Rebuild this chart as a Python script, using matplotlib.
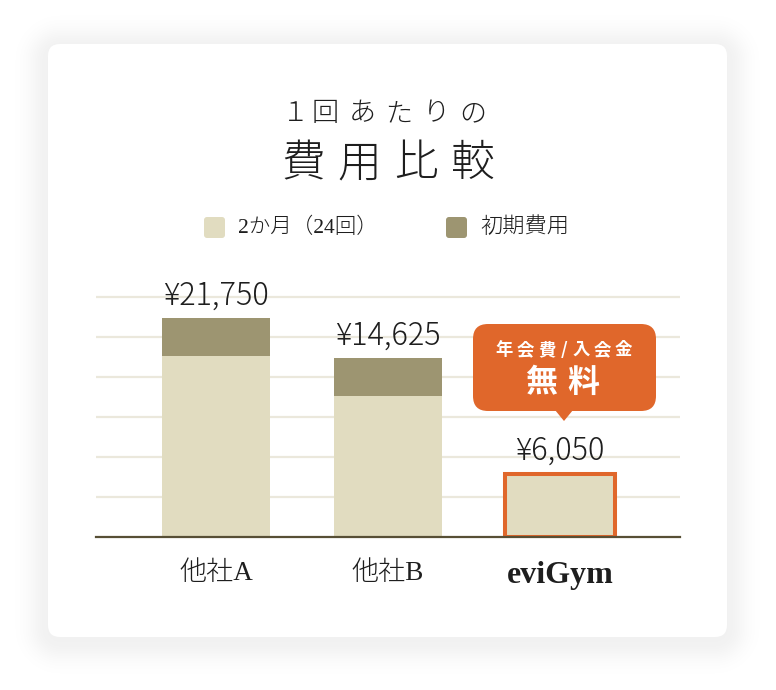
import numpy as np
import matplotlib.pyplot as plt
from matplotlib.patches import FancyBboxPatch, Polygon

# data
companies = ['他社A', '他社B', 'eviGym']
monthly = [4.52, 3.52, 1.58]     # 2か月（24回） bar height (grid units)
initial = [0.95, 0.95, 0.0]      # 初期費用 bar height (grid units)
price_labels = ['¥21,750', '¥14,625', '¥6,050']
series_names = ['2か月（24回）', '初期費用']

c_base = '#e1dcc0'
c_init = '#9d9571'
c_orange = '#e0672b'
c_grid = '#ebe8dc'
c_axis = '#574f35'
c_text = '#1e1e1e'

JP = ['Liberation Serif', 'Noto Sans CJK JP', 'DejaVu Sans']
JPS = ['Noto Sans CJK JP', 'DejaVu Sans']

W, H = 776, 690
fig = plt.figure(figsize=(W / 100, H / 100), dpi=100)
fig.patch.set_facecolor('white')

bg = fig.add_axes([0, 0, 1, 1], zorder=0)
bg.set_xlim(0, W)
bg.set_ylim(H, 0)
bg.axis('off')

# soft card shadow (distance to the rounded card, faded)
yy, xx = np.mgrid[0:H, 0:W] + 0.5
cx, cy, hw, hh, r = 387.5, 344.5, 339.5, 296.5, 12
qx = np.abs(xx - cx) - (hw - r)
qy = np.abs(yy - cy) - (hh - r)
dist = np.hypot(np.maximum(qx, 0), np.maximum(qy, 0)) + np.minimum(np.maximum(qx, qy), 0) - r
shade = 0.055 * np.exp(-(np.maximum(dist, 0) / 20.0) ** 2)
img = np.zeros((H, W, 4))
img[..., 3] = shade
bg.imshow(img, extent=(0, W, H, 0), interpolation='bilinear', zorder=0)
bg.set_xlim(0, W)
bg.set_ylim(H, 0)
bg.add_patch(FancyBboxPatch((48, 44), 679, 593, boxstyle='round,pad=0,rounding_size=12',
                            fc='white', ec='none', zorder=1))


def spaced(axis, x_center, y, s, fs, tracking, **kw):
    # draw characters one by one with letter spacing (fs in pt)
    px = fs * 100 / 72
    widths = [(0.5 if ord(ch) < 128 else 1.0) * px for ch in s]
    total = sum(widths) + tracking * (len(s) - 1)
    x = x_center - total / 2
    for ch, w in zip(s, widths):
        axis.text(x + w / 2, y, ch, fontsize=fs, ha='center', va='center', zorder=2, **kw)
        x += w + tracking


# title
title1 = '１回あたりの'
title1_x = [295, 325, 362, 399, 436, 473]
for ch, tx in zip(title1, title1_x):
    bg.text(tx, 113, ch, fontsize=19.5, ha='center', va='center', color=c_text,
            family=JPS, fontweight='light', zorder=2)
spaced(bg, 388, 165, '費用比較', 31.5, 13, color=c_text, family=JP, fontweight='light')

# legend
leg = [(204, series_names[0], c_base, 15.5), (446, series_names[1], c_init, 16)]
for x0, name, col, fs in leg:
    bg.add_patch(FancyBboxPatch((x0, 217), 21, 21, boxstyle='round,pad=0,rounding_size=3',
                                fc=col, ec='none', zorder=2))
    bg.text(x0 + 34, 228, name, fontsize=fs, ha='left', va='center', color=c_text, family=JP,
            fontweight='light', zorder=2)

# chart axes
ax = fig.add_axes([96 / W, (H - 537) / H, 584 / W, 280 / H], zorder=1)
ax.patch.set_alpha(0)
x = np.arange(len(companies))
bw = 108 / 172
ax.bar(x, monthly, width=bw, color=c_base, zorder=2)
ax.bar(x, initial, width=bw, bottom=monthly, color=c_init, zorder=2)
ax.bar(x[2], monthly[2], width=bw + 2 / 172, fc='none', ec=c_orange, lw=2.9, zorder=3)
ax.set_xlim(-120 / 172, 2 + 120 / 172)
ax.set_ylim(0, 7)
ax.set_yticks([1, 2, 3, 4, 5, 6])
ax.yaxis.grid(True, color=c_grid, lw=1.6)
ax.set_axisbelow(True)
ax.tick_params(axis='y', left=False, labelleft=False)
ax.tick_params(axis='x', length=0, pad=17)
for sp in ['top', 'left', 'right']:
    ax.spines[sp].set_visible(False)
ax.spines['bottom'].set_color(c_axis)
ax.spines['bottom'].set_linewidth(1.6)
ax.spines['bottom'].set_zorder(4)

ax.set_xticks(x)
ax.set_xticklabels(companies)
for i, lab in enumerate(ax.get_xticklabels()):
    lab.set_color(c_text)
    if i == 2:
        lab.set_family(['Liberation Serif'])
        lab.set_fontweight('bold')
        lab.set_fontsize(23)
    else:
        lab.set_family(JP)
        lab.set_fontweight('light')
        lab.set_fontsize(19.5)

tot = np.array(monthly) + np.array(initial)
for i, t in enumerate(tot):
    ax.annotate(price_labels[i], (x[i], t), xytext=(0, 10), textcoords='offset points',
                ha='center', va='baseline', fontsize=22, color=c_text, family=JPS,
                fontweight='light')

# callout
top = fig.add_axes([0, 0, 1, 1], zorder=3)
top.set_xlim(0, W)
top.set_ylim(H, 0)
top.axis('off')
top.add_patch(FancyBboxPatch((473, 324), 183, 87, boxstyle='round,pad=0,rounding_size=15',
                             fc=c_orange, ec='none'))
top.add_patch(Polygon([[555, 410], [573, 410], [564, 421]], closed=True, fc=c_orange, ec='none'))
spaced(top, 564, 350, '年会費/入会金', 12.5, 4, color='white', fontweight='bold', family=JPS)
spaced(top, 562, 383, '無料', 23, 10, color='white', fontweight='bold', family=JPS)

fig.savefig('out.png', dpi=100)
